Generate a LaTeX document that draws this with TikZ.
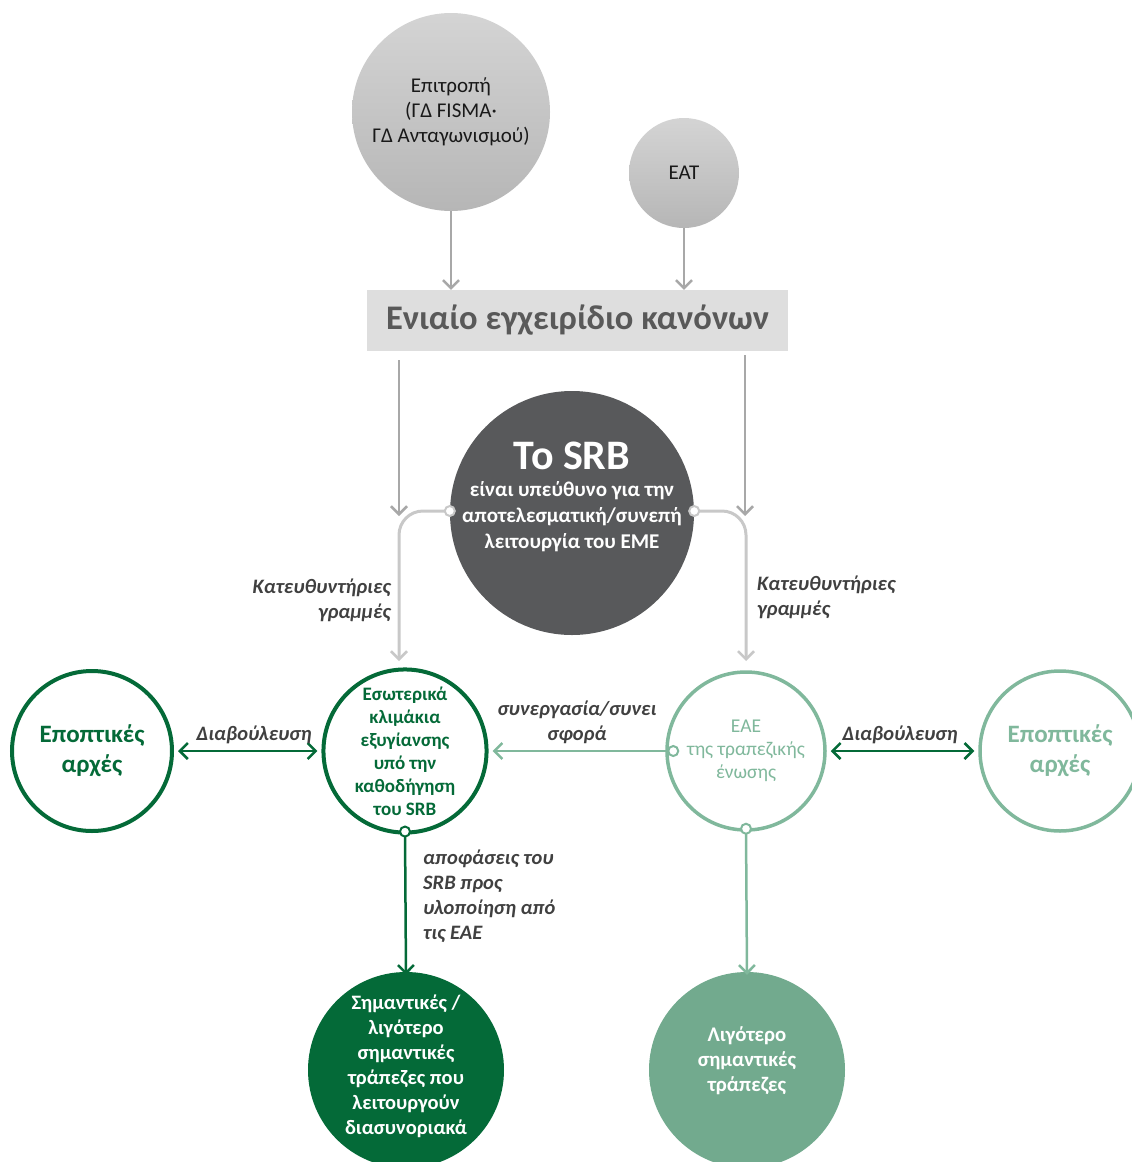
\documentclass[tikz,border=0pt]{standalone}
\usepackage{fontspec}
\setmainfont{Carlito}
\usetikzlibrary{arrows.meta}
\definecolor{dg}{HTML}{046A38}
\definecolor{lg}{HTML}{80B89C}
\definecolor{lgf}{HTML}{72AA8E}
\definecolor{lbl}{HTML}{404040}
\definecolor{garr}{HTML}{A8A8A8}
\definecolor{carr}{HTML}{C8C8C8}
\definecolor{srbc}{HTML}{58595B}
\definecolor{boxc}{HTML}{DEDEDE}
\definecolor{boxt}{HTML}{595959}
\definecolor{gtop}{HTML}{D4D4D4}
\definecolor{gbot}{HTML}{B6B6B6}
\begin{document}
\begin{tikzpicture}[x=1pt,y=-1pt,
  graycirc/.style={circle, draw=none, top color=gtop, bottom color=gbot, inner sep=0pt},
  ringdg/.style={circle, draw=dg, line width=4pt, fill=white, inner sep=0pt},
  ringlg/.style={circle, draw=lg, line width=3.5pt, fill=white, inner sep=0pt},
  txt/.style={inner sep=0pt, align=center},
  lab/.style={inner sep=0pt, text=lbl, font=\fontsize{20.5}{25}\selectfont\bfseries\itshape},
  tip/.style={-{Straight Barb[length=8pt,width=16pt,line width=2.5pt]}},
  dtip/.style={{Straight Barb[length=8pt,width=16pt,line width=2.5pt]}-{Straight Barb[length=8pt,width=16pt,line width=2.5pt]}},
  garrow/.style={tip, draw=garr, line width=2.5pt},
  carrow/.style={tip, draw=carr, line width=3pt},
  dgarrow/.style={tip, draw=dg, line width=2.5pt},
  lgarrow/.style={tip, draw=lg, line width=2.5pt}
]
\useasboundingbox (0,0) rectangle (1132,1162);

% top circles
\node[graycirc, minimum size=198pt, font=\fontsize{21}{25}\selectfont, align=center, text=black!90] (com) at (451,112) {Επιτροπή\\(ΓΔ FISMA·\\ΓΔ Ανταγωνισμού)};
\node[graycirc, minimum size=110pt, font=\fontsize{21}{25}\selectfont, text=black!90] (eat) at (684,173) {ΕΑΤ};

% single rulebook
\node[fill=boxc, minimum width=421pt, minimum height=61pt, inner sep=0pt, text=boxt, font=\fontsize{34.5}{38}\selectfont\bfseries] (rule) at (577.5,320.5) {Ενιαίο εγχειρίδιο κανόνων};

\draw[garrow] (com.south) -- (com.south |- rule.north);
\draw[garrow] (eat.south) -- (eat.south |- rule.north);

% SRB
\node[circle, fill=srbc, minimum size=244pt, inner sep=0pt] (srb) at (572,513) {};
\node[txt, text=white, font=\fontsize{21}{26}\selectfont\bfseries] (srbtxt) at (572,497) {{\fontsize{42}{42}\selectfont To SRB}\\[1pt]είναι υπεύθυνο για την\\αποτελεσματική/συνεπή\\λειτουργία του ΕΜΕ};

% second row
\node[ringdg, minimum size=160pt, text=dg, font=\fontsize{25}{30}\selectfont\bfseries, align=center] (supL) at (92,751) {Εποπτικές\\αρχές};
\node[ringdg, minimum size=158pt, text=dg, font=\fontsize{19}{23}\selectfont\bfseries, align=center] (res) at (405,751) {Εσωτερικά\\κλιμάκια\\εξυγίανσης\\υπό την\\καθοδήγηση\\του SRB};
\node[ringlg, minimum size=158pt, text=lg, font=\fontsize{19.5}{23}\selectfont, align=center] (eae) at (746,751) {ΕΑΕ\\της τραπεζικής\\ένωσης};
\node[ringlg, minimum size=160pt, text=lg, font=\fontsize{25}{30}\selectfont\bfseries, align=center] (supR) at (1060,751) {Εποπτικές\\αρχές};

% bottom row
\node[circle, fill=dg, minimum size=196pt, inner sep=0pt] (sig) at (406,1070) {};
\node[txt, text=white, font=\fontsize{20.5}{25}\selectfont\bfseries] (sigtxt) at (406,1066) {Σημαντικές /\\λιγότερο\\σημαντικές\\τράπεζες που\\λειτουργούν\\διασυνοριακά};
\node[circle, fill=lgf, minimum size=196pt, inner sep=0pt] (less) at (747,1070) {};
\node[txt, text=white, font=\fontsize{20.8}{25}\selectfont\bfseries] (lesstxt) at (747,1061) {Λιγότερο\\σημαντικές\\τράπεζες};

% coordinates for rulebook arrows and guideline connectors
\coordinate (rl0) at (399,360);
\coordinate (rl1) at (399,516);
\coordinate (rr0) at (745,355);
\coordinate (rr1) at (745,516);
\coordinate (gl) at (399,661);
\coordinate (gr) at (746,661);

\draw[garrow] (rl0) -- (rl1);
\draw[garrow] (rr0) -- (rr1);

\draw[carrow, rounded corners=24pt] ([yshift=2pt]srb.west) -| (gl);
\draw[carrow, rounded corners=24pt] ([yshift=2pt]srb.east) -| (gr);
\fill[white, draw=carr, line width=2pt] ([yshift=2pt]srb.west) circle (5);
\fill[white, draw=carr, line width=2pt] ([yshift=2pt]srb.east) circle (5);

\node[lab, anchor=east, align=right] (gll) at (391,600) {Κατευθυντήριες\\γραμμές};
\node[lab, anchor=west, align=left] (grl) at (757,597) {Κατευθυντήριες\\γραμμές};

% horizontal connectors
\draw[dtip, draw=dg, line width=2.5pt] ([xshift=4pt]supL.east) -- ([xshift=-4pt]res.west);
\node[lab] (cl) at (254,735) {Διαβούλευση};
\draw[lgarrow] ([xshift=8pt]eae.west) -- ([xshift=4pt]res.east);
\fill[white, draw=lg, line width=2pt] ([xshift=8pt]eae.west) circle (5);
\node[lab, align=center] (coop) at (577,722) {συνεργασία/συνει\\σφορά};
\draw[dtip, draw=dg, line width=2.5pt] ([xshift=4pt]eae.east) -- ([xshift=-4pt]supR.west);
\node[lab] (cr) at (900,735) {Διαβούλευση};

% vertical connectors
\draw[dgarrow] ([yshift=3pt]res.south) -- ([yshift=-3pt]sig.north);
\fill[white, draw=dg, line width=2pt] ([yshift=3pt]res.south) circle (5);
\node[lab, anchor=west, align=left] (dec) at (423,896) {αποφάσεις του\\SRB προς\\υλοποίηση από\\τις ΕΑΕ};
\draw[lgarrow] ([yshift=3pt]eae.south) -- ([yshift=-3pt]less.north);
\fill[white, draw=lg, line width=2pt] ([yshift=3pt]eae.south) circle (5);
\end{tikzpicture}
\end{document}
